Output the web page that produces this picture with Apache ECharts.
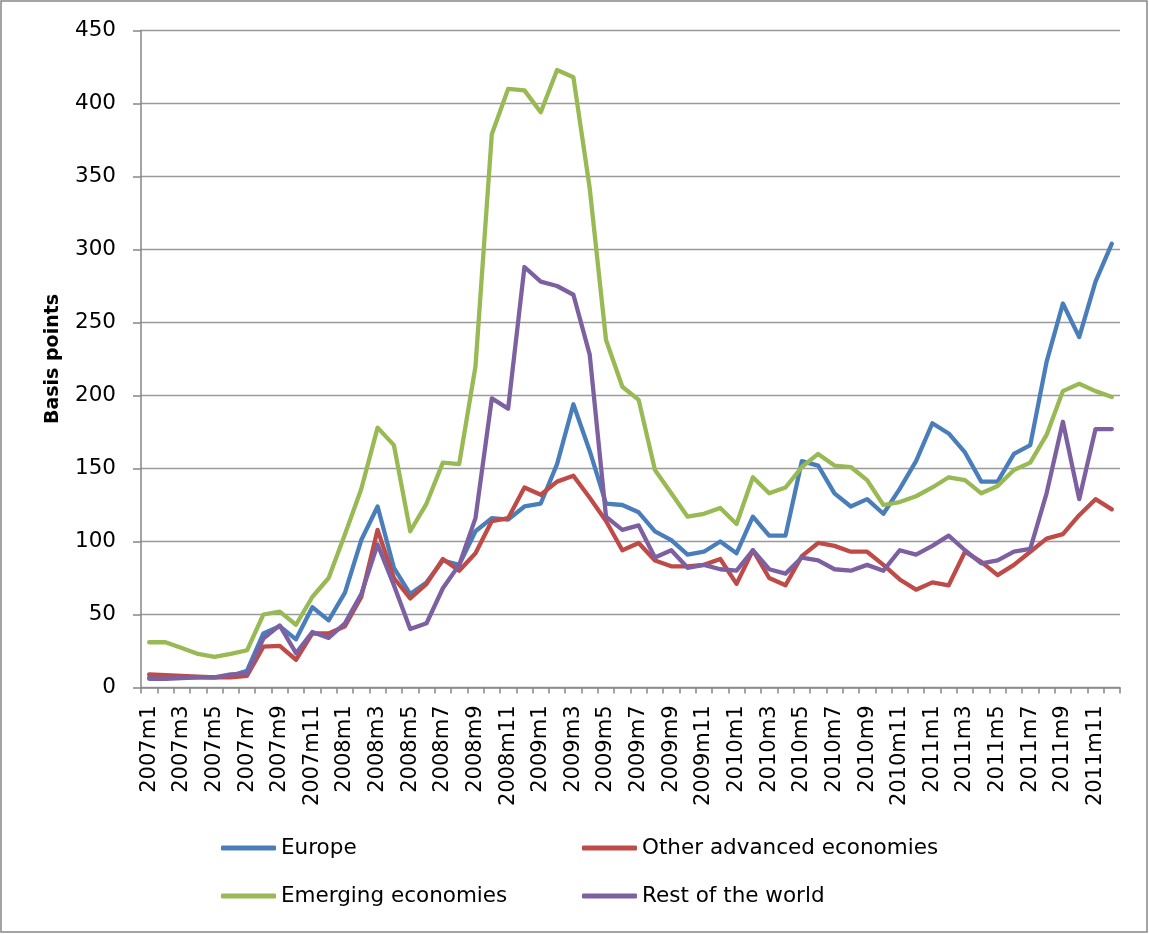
<!DOCTYPE html>
<html>
<head>
<meta charset="utf-8">
<script src="https://cdn.jsdelivr.net/npm/echarts@6/dist/echarts.min.js"></script>
<style>
html,body{margin:0;padding:0;background:#fff;}
#chart{width:1149px;height:934px;}
</style>
</head>
<body>
<div id="chart"></div>
<script>
const categories = [
  "2007m1","2007m2","2007m3","2007m4","2007m5","2007m6","2007m7","2007m8","2007m9","2007m10","2007m11","2007m12",
  "2008m1","2008m2","2008m3","2008m4","2008m5","2008m6","2008m7","2008m8","2008m9","2008m10","2008m11","2008m12",
  "2009m1","2009m2","2009m3","2009m4","2009m5","2009m6","2009m7","2009m8","2009m9","2009m10","2009m11","2009m12",
  "2010m1","2010m2","2010m3","2010m4","2010m5","2010m6","2010m7","2010m8","2010m9","2010m10","2010m11","2010m12",
  "2011m1","2011m2","2011m3","2011m4","2011m5","2011m6","2011m7","2011m8","2011m9","2011m10","2011m11","2011m12"
];
const europe = [
  7,7,7,7,7,8,11.5,37,42,33,55,46,
  65,101,124,82,64,72,87,84,107,116,115,124,
  126,153,194,162,126,125,120,107,101,91,93,100,
  92,117,104,104,155,152,133,124,129,119,136,155,
  181,174,161,141,141,160,166,223,263,240,278,304
];
const otherAdvanced = [
  9,8.5,8,7.5,7,7,8,28,28.5,19,37,37,
  42,62,108,75,61,71,88,80,92,114,116,137,
  132,141,145,130,114,94,99,87,83,83,84,88,
  71,94,75,70,90,99,97,93,93,84,74,67,
  72,70,93,86,77,84,93,102,105,118,129,122
];
const emerging = [
  31,31,27,23,21,23,25.5,50,52,43,62,75,
  105,136,178,166,107,126,154,153,220,379,410,409,
  394,423,418,342,238,206,197,149,133,117,119,123,
  112,144,133,137,151,160,152,151,142,125,127,131,
  137,144,142,133,138,149,154,173,203,208,203,199
];
const restOfWorld = [
  6,6,6.5,7,7,9,9.5,33.5,42.5,23.5,38,34,
  44,64,98,70,40,44,68,84,116,198,191,288,
  278,275,269,228,117,108,111,89,94,82,84,81,
  80,94,81,78,89,87,81,80,84,80,94,91,
  97,104,94,85,87,93,95,133,182,129,177,177
];
const seriesNames = ["Europe","Other advanced economies","Emerging economies","Rest of the world"];
const yTicks = [0,50,100,150,200,250,300,350,400,450];
const colors = ["#4A7EBB","#BE4B48","#98B954","#7D60A0"];

const FONT = "DejaVu Sans";
const chart = echarts.init(document.getElementById('chart'), null, {renderer:'canvas'});
const dataSets = [europe, otherAdvanced, emerging, restOfWorld];

const legendPos = [
  {left:221, top:835},
  {left:582, top:835},
  {left:221, top:883},
  {left:582, top:883}
];

chart.setOption({
  animation:false,
  backgroundColor:'#ffffff',
  textStyle:{fontFamily:FONT},
  graphic:[{
    type:'rect', silent:true, z:-1,
    shape:{x:1, y:1, width:1146, height:931},
    style:{fill:'none', stroke:'#868686', lineWidth:1.5}
  }],
  grid:{left:141, right:29, top:30.5, bottom:246.5, containLabel:false},
  legend: seriesNames.map((n,i)=>({
    data:[n], left:legendPos[i].left, top:legendPos[i].top, padding:0,
    icon:'roundRect', itemWidth:55, itemHeight:5,
    textStyle:{fontFamily:FONT, fontSize:21.5, color:'#000', lineHeight:26},
    selectedMode:false
  })),
  xAxis:{
    type:'category', data:categories, boundaryGap:true,
    axisLine:{show:true, lineStyle:{color:'#868686', width:1.5}},
    axisTick:{show:true, interval:0, length:6, alignWithLabel:false, lineStyle:{color:'#868686', width:1.5}},
    axisLabel:{interval:1, rotate:90, fontFamily:FONT, fontSize:21, color:'#000', margin:18},
    splitLine:{show:false}
  },
  yAxis:{
    type:'value', min:yTicks[0], max:yTicks[yTicks.length-1], interval:50,
    name:'Basis points', nameLocation:'middle', nameRotate:90, nameGap:78,
    nameTextStyle:{fontFamily:FONT, fontSize:19, fontWeight:'bold', color:'#000'},
    axisLine:{show:true, lineStyle:{color:'#868686', width:1.5}},
    axisTick:{show:true, length:8, lineStyle:{color:'#868686', width:1.5}},
    axisLabel:{fontFamily:FONT, fontSize:21.5, color:'#000', margin:25},
    splitLine:{show:true, lineStyle:{color:'#9a9a9a', width:1.4}}
  },
  series: seriesNames.map((n,i)=>({
    name:n, type:'line', data:dataSets[i], symbol:'none', showSymbol:false,
    color:colors[i],
    lineStyle:{color:colors[i], width:4.3, cap:'round', join:'round'},
    emphasis:{disabled:true}
  }))
});
</script>
</body>
</html>
